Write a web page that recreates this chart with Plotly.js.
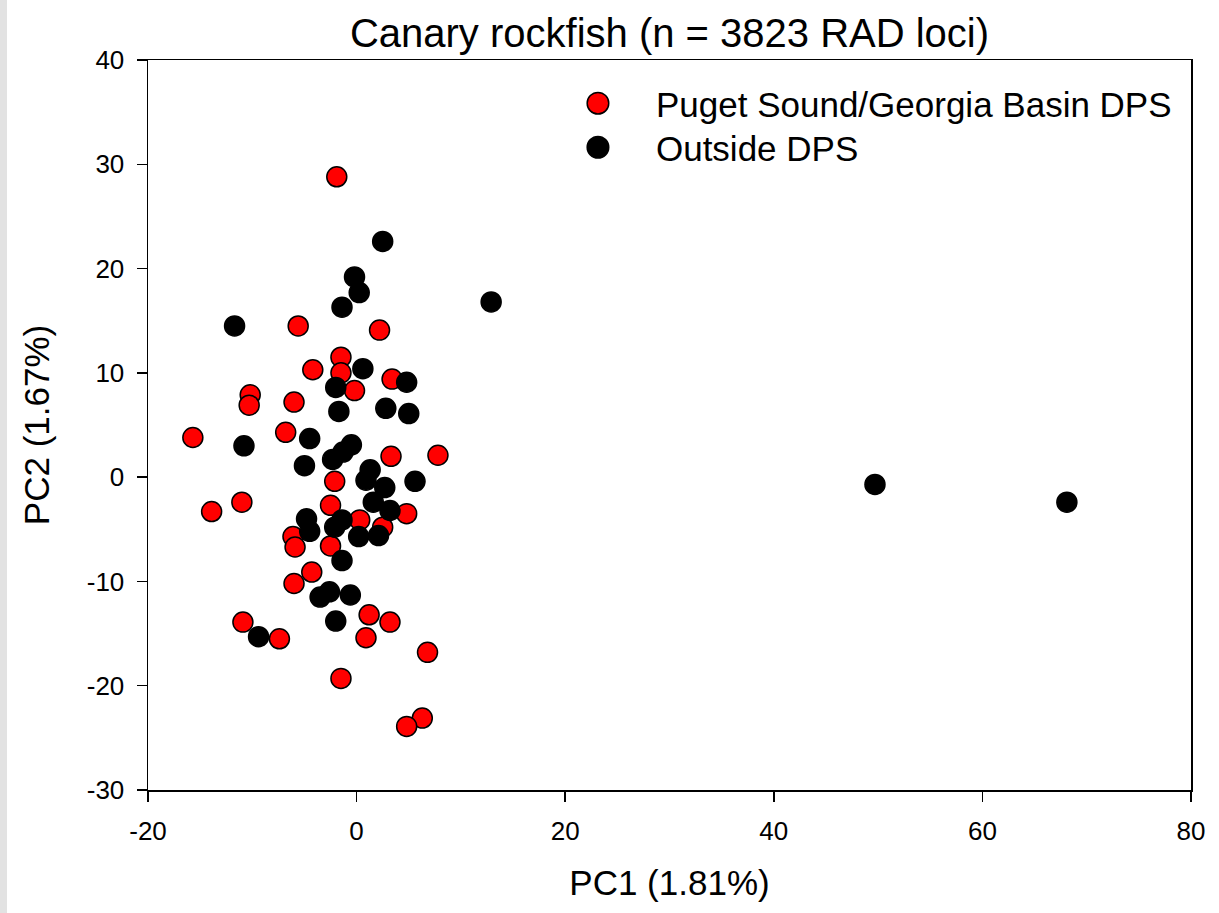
<!DOCTYPE html>
<html>
<head>
<meta charset="utf-8">
<script src="https://cdn.plot.ly/plotly-3.0.1.min.js"></script>
<style>
  html, body { margin: 0; padding: 0; background: #ffffff; }
  #strip { position: absolute; left: 0; top: 0; width: 7px; height: 913px; background: #e2e2e2; z-index: 5; }
  #chart { width: 1219px; height: 913px; }
</style>
</head>
<body>
<div id="strip"></div>
<div id="chart"></div>
<script>
// Puget Sound/Georgia Basin DPS samples
const dpsPC1 = [-1.9, -5.6, 2.2, -1.5, -4.2, -1.5, 3.4, -0.2, -10.2, -10.3, -6.0, -15.7, -6.8, 3.3, 7.8, -2.1, -13.9, -11.0, -2.5, 4.8, 0.3, 2.5, -6.1, -5.9, -2.5, -4.3, -6.0, -10.9, -7.4, 1.2, 3.2, 0.9, 6.8, -1.5, 6.3, 4.8];
const dpsPC2 = [28.8, 14.5, 14.1, 11.5, 10.3, 10.0, 9.4, 8.3, 7.9, 6.9, 7.2, 3.8, 4.3, 2.0, 2.1, -0.4, -3.3, -2.4, -2.7, -3.5, -4.1, -4.8, -5.7, -6.7, -6.6, -9.1, -10.2, -13.9, -15.5, -13.2, -13.9, -15.4, -16.8, -19.3, -23.1, -23.9];

// Outside DPS samples
const outPC1 = [2.5, -0.2, 0.25, -1.4, -11.7, 12.9, 0.6, 4.8, -2.0, -1.7, 2.8, 5.0, -10.8, -4.5, -0.5, -1.3, -2.3, -5.0, 1.3, 0.9, 2.7, 5.6, 1.6, 3.2, -4.8, -1.4, -2.1, -4.5, 0.2, 2.1, -1.4, -3.5, -2.6, -0.6, -2.0, -9.4, 49.7, 68.1];
const outPC2 = [22.6, 19.2, 17.7, 16.3, 14.5, 16.8, 10.4, 9.1, 8.6, 6.3, 6.6, 6.1, 3.0, 3.7, 3.1, 2.4, 1.7, 1.1, 0.7, -0.3, -1.0, -0.4, -2.4, -3.2, -4.0, -4.1, -4.8, -5.2, -5.7, -5.6, -8.0, -11.5, -11.0, -11.3, -13.8, -15.3, -0.7, -2.4];

const seriesNames = ["Puget Sound/Georgia Basin DPS", "Outside DPS"];
const titleText = "Canary rockfish (n = 3823 RAD loci)";
const xTitle = "PC1 (1.81%)";
const yTitle = "PC2 (1.67%)";

// Tick values and labels (plain hyphen minus as in the original)
const xTickVals = [-20, 0, 20, 40, 60, 80];
const xTickText = ["-20", "0", "20", "40", "60", "80"];
const yTickVals = [-30, -20, -10, 0, 10, 20, 30, 40];
const yTickText = ["-30", "-20", "-10", "0", "10", "20", "30", "40"];

const FONT = "Liberation Sans, Arial, Helvetica, sans-serif";

const traces = [
  {
    x: dpsPC1, y: dpsPC2, type: "scatter", mode: "markers", name: seriesNames[0],
    legend: "legend",
    marker: { color: "#ff0000", size: 20, line: { color: "#000000", width: 1.5 } }
  },
  {
    x: outPC1, y: outPC2, type: "scatter", mode: "markers", name: seriesNames[1],
    legend: "legend2",
    marker: { color: "#000000", size: 20, line: { color: "#000000", width: 1.5 } }
  }
];

const axisCommon = {
  showgrid: false, zeroline: false,
  showline: true, linecolor: "#000000", linewidth: 1.5, mirror: true,
  ticks: "outside", ticklen: 10, tickwidth: 1.5, tickcolor: "#000000",
  tickmode: "array",
  tickfont: { family: FONT, size: 26, color: "#000000" }
};

const legendCommon = {
  xanchor: "left", yanchor: "top",
  bgcolor: "rgba(0,0,0,0)", borderwidth: 0,
  itemwidth: 106,
  font: { family: FONT, size: 35, color: "#000000" }
};

const layout = {
  width: 1219, height: 913,
  paper_bgcolor: "#ffffff", plot_bgcolor: "#ffffff",
  margin: { l: 148, r: 28, t: 60, b: 123, pad: 0 },
  font: { family: FONT, color: "#000000" },
  title: {
    text: titleText, font: { family: FONT, size: 40, color: "#000000" },
    x: 0.5, xref: "paper", xanchor: "center",
    y: 1 - 33 / 913, yref: "container", yanchor: "middle"
  },
  xaxis: Object.assign({}, axisCommon, {
    range: [-20, 80], tickvals: xTickVals, ticktext: xTickText,
    ticklabelstandoff: 7,
    title: { text: xTitle, font: { family: FONT, size: 35, color: "#000000" }, standoff: 26 }
  }),
  yaxis: Object.assign({}, axisCommon, {
    range: [-30, 40], tickvals: yTickVals, ticktext: yTickText,
    ticklabelstandoff: 7,
    title: { text: yTitle, font: { family: FONT, size: 35, color: "#000000" }, standoff: 26 }
  }),
  showlegend: true,
  legend: Object.assign({}, legendCommon, { x: 0.3758, y: 0.9795 + 1 / 730 }),
  legend2: Object.assign({}, legendCommon, { x: 0.3758, y: 0.9795 - 43 / 730 })
};

Plotly.newPlot("chart", traces, layout, { displayModeBar: false, staticPlot: true }).then(function (gd) {
  // Legend symbols in the original are as large as the plotted markers
  gd.querySelectorAll(".legendpoints path.scatterpts").forEach(function (p) {
    const t = p.getAttribute("transform") || "";
    p.setAttribute("transform", t + " scale(1.35)");
    p.style.strokeWidth = "1.1px";
  });
});
</script>
</body>
</html>
